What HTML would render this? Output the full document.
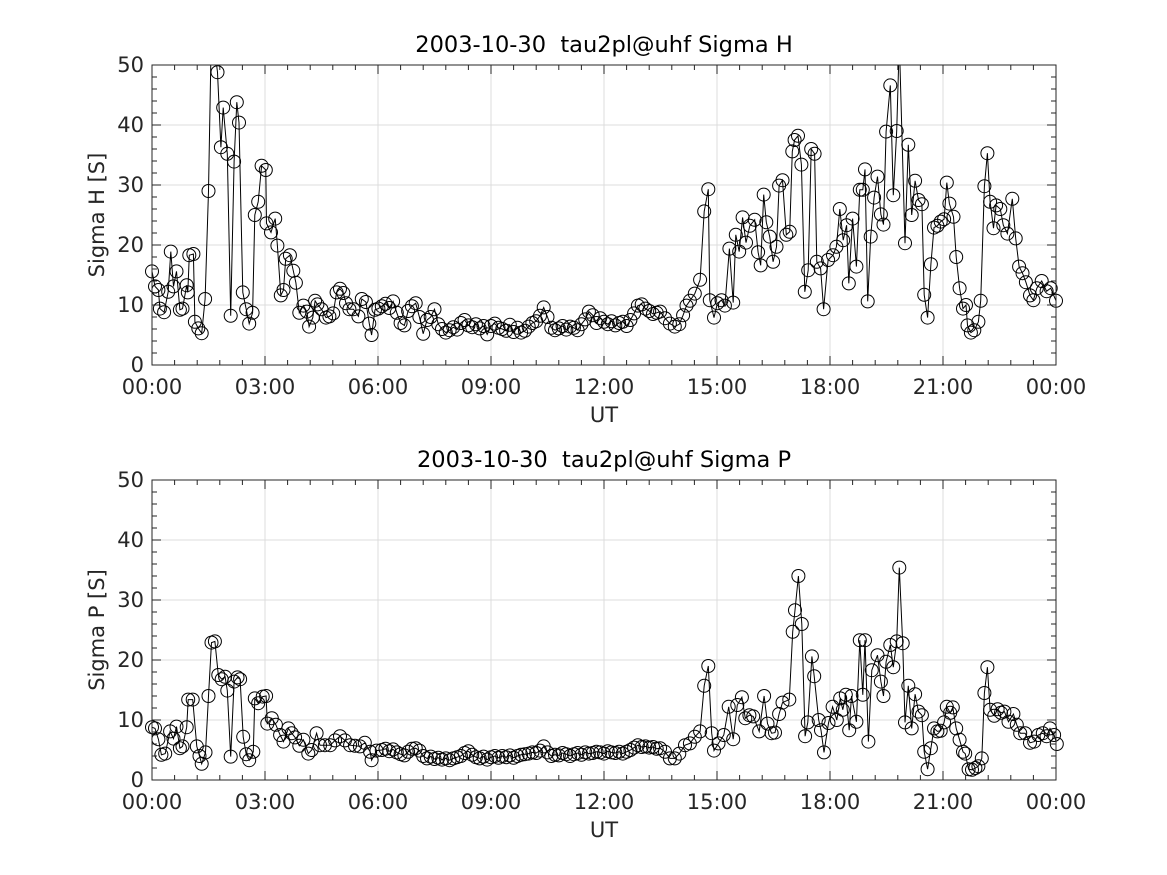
<!DOCTYPE html>
<html><head><meta charset="utf-8"><style>
html,body{margin:0;padding:0;background:#fff;}
svg{display:block;font-family:"DejaVu Sans","Liberation Sans",sans-serif;}
</style></head><body>
<svg id="fig" width="1167" height="875" viewBox="0 0 1167 875" xmlns="http://www.w3.org/2000/svg">
<rect width="1167" height="875" fill="#fff"/>
<defs>
<clipPath id="c1"><rect x="152" y="65" width="904" height="300"/></clipPath>
<clipPath id="c2"><rect x="152" y="480" width="904" height="300"/></clipPath>
</defs>
</svg>
<script>
// ---- data ----
const hTimes = [0.0,0.08,0.17,0.21,0.32,0.43,0.5,0.57,0.65,0.74,0.81,0.92,0.95,0.99,1.1,1.14,1.23,1.32,1.41,1.5,1.58,1.74,1.83,1.89,2.0,2.09,2.18,2.25,2.31,2.41,2.5,2.58,2.67,2.73,2.82,2.91,3.02,3.04,3.16,3.27,3.33,3.42,3.49,3.55,3.66,3.75,3.82,3.91,4.02,4.11,4.17,4.27,4.33,4.39,4.5,4.62,4.71,4.81,4.9,4.99,5.08,5.15,5.24,5.35,5.48,5.57,5.68,5.77,5.83,5.92,6.01,
6.1,6.2,6.3,6.4,6.5,6.6,6.7,6.8,6.9,7.0,7.1,7.2,7.3,7.4,7.5,7.6,7.7,7.8,7.9,8.0,8.1,8.2,8.3,8.4,8.5,8.6,8.7,8.8,8.9,9.0,9.1,9.2,9.3,9.4,9.5,9.6,9.7,9.8,9.9,10.0,10.1,10.2,10.3,10.4,10.5,10.6,10.7,10.8,10.9,11.0,11.1,11.2,11.3,11.4,11.5,11.6,11.7,11.8,11.9,12.0,12.1,12.2,12.3,12.4,12.5,12.6,12.7,12.8,12.9,13.0,13.1,13.2,13.3,13.4,
13.49,13.62,13.75,13.88,14.0,14.1,14.19,14.28,14.41,14.55,14.66,14.77,14.81,14.92,15.01,15.12,15.21,15.33,15.43,15.5,15.59,15.68,15.77,15.87,16.0,16.09,16.16,16.24,16.31,16.4,16.49,16.58,16.65,16.74,16.84,16.93,17.0,17.06,17.15,17.24,17.33,17.42,17.5,17.59,17.65,17.75,17.83,17.95,18.08,18.17,18.26,18.35,18.44,18.5,18.6,18.7,18.79,
18.87,18.93,19.0,19.08,19.17,19.26,19.35,19.42,19.49,19.6,19.68,19.77,19.84,19.99,20.08,20.17,20.26,20.35,20.44,20.5,20.59,20.68,20.76,20.85,20.94,21.03,21.1,21.17,21.28,21.35,21.44,21.53,21.61,21.65,21.74,21.83,21.94,22.0,22.1,22.18,22.25,22.34,22.41,22.52,22.6,22.71,22.84,22.93,23.02,23.11,23.2,23.31,23.4,23.49,23.62,23.75,23.86,24.0];
const hValues = [15.6,13.1,12.5,9.4,8.8,12.2,18.9,13.1,15.6,9.2,9.4,13.3,12.1,18.3,18.5,7.2,6.1,5.3,11.0,29.0,57,48.8,36.3,42.9,35.2,8.2,33.9,43.8,40.4,12.1,9.3,6.9,8.7,25.0,27.2,33.2,32.5,23.6,22.1,24.4,19.9,11.6,12.5,17.7,18.3,15.7,13.7,8.7,9.9,8.9,6.4,7.9,10.7,10.1,9.3,7.9,8.1,8.6,12.1,12.7,12.0,10.3,9.3,9.3,8.1,11.0,10.5,6.9,5.0,9.2,9.4,
9.8,10.2,9.5,10.6,8.7,7.0,6.6,9.0,9.8,10.3,8.0,5.2,7.5,8.0,9.3,6.8,6.0,5.4,5.8,6.3,5.9,7.0,7.5,6.6,6.3,6.8,6.1,6.5,5.1,6.5,6.9,6.2,6.0,5.7,6.7,5.5,6.2,5.4,5.7,6.4,7.0,7.3,8.2,9.6,8.0,6.2,5.8,6.1,6.5,5.9,6.4,6.2,5.8,6.8,7.6,8.9,8.3,7.0,7.8,7.2,6.8,7.3,6.6,7.0,7.2,6.5,7.5,8.6,9.9,10.1,9.4,9.0,8.5,8.7,
8.9,7.8,6.9,6.4,6.8,8.3,9.9,10.7,11.9,14.2,25.6,29.3,10.8,7.9,10.3,10.8,9.9,19.4,10.4,21.7,18.9,24.6,20.4,23.2,24.2,18.8,16.6,28.4,23.8,21.4,17.2,19.7,29.9,30.8,21.7,22.2,35.6,37.5,38.2,33.4,12.2,15.8,36.0,35.2,17.2,16.1,9.3,17.5,18.3,19.7,26.0,20.8,23.3,13.6,24.4,16.4,29.2,
29.2,32.6,10.6,21.4,27.9,31.4,25.1,23.4,38.9,46.6,28.3,39.0,54,20.3,36.7,25.0,30.7,27.5,26.8,11.7,7.9,16.8,22.9,23.2,23.9,24.3,30.4,26.9,24.7,18.0,12.8,9.4,10.0,6.6,5.4,5.8,7.2,10.7,29.8,35.3,27.2,22.8,26.6,26.0,23.3,21.9,27.7,21.1,16.4,15.3,13.8,11.6,10.8,12.8,14.0,12.3,12.8,10.7];

const pTimes = [0.0,0.08,0.17,0.25,0.35,0.48,0.57,0.65,0.74,0.81,0.92,0.96,1.08,1.19,1.26,1.32,1.42,1.5,1.58,1.67,1.76,1.85,1.94,2.0,2.09,2.18,2.27,2.34,2.42,2.5,2.58,2.69,2.73,2.82,2.94,3.03,3.06,3.18,3.29,3.4,3.49,3.62,3.71,3.8,3.91,4.02,4.15,4.24,4.37,4.46,4.59,4.73,4.86,4.99,5.12,5.26,5.39,5.52,5.65,5.79,5.83,5.96,
6.1,6.2,6.3,6.4,6.5,6.6,6.7,6.8,6.9,7.0,7.1,7.2,7.3,7.4,7.5,7.6,7.7,7.8,7.9,8.0,8.1,8.2,8.3,8.4,8.5,8.6,8.7,8.8,8.9,9.0,9.1,9.2,9.3,9.4,9.5,9.6,9.7,9.8,9.9,10.0,10.1,10.2,10.3,10.4,10.5,10.6,10.7,10.8,10.9,11.0,11.1,11.2,11.3,11.4,11.5,11.6,11.7,11.8,11.9,12.0,12.1,12.2,12.3,12.4,12.5,12.6,12.7,12.8,12.9,13.0,13.1,13.2,13.3,13.4,
13.49,13.62,13.75,13.88,14.0,14.15,14.28,14.41,14.55,14.66,14.77,14.86,14.92,15.04,15.18,15.31,15.43,15.54,15.66,15.75,15.86,15.96,16.12,16.25,16.34,16.45,16.54,16.65,16.74,16.92,17.01,17.07,17.16,17.25,17.34,17.41,17.52,17.58,17.7,17.76,17.84,17.96,18.07,18.18,18.27,18.34,18.42,18.51,18.57,18.7,18.79,
18.87,18.93,19.02,19.11,19.26,19.35,19.42,19.49,19.6,19.68,19.77,19.84,19.93,19.99,20.08,20.17,20.26,20.35,20.44,20.5,20.59,20.68,20.76,20.85,20.94,21.03,21.1,21.19,21.26,21.35,21.44,21.53,21.59,21.68,21.77,21.86,21.94,22.03,22.1,22.18,22.25,22.36,22.45,22.54,22.63,22.74,22.87,22.96,23.05,23.18,23.31,23.42,23.53,23.65,23.75,23.84,23.95,24.02];
const pValues = [8.8,8.6,6.8,4.2,4.4,8.1,6.9,8.9,5.3,5.6,8.8,13.4,13.4,5.6,4.0,2.7,4.6,14.0,22.9,23.1,17.5,16.8,17.2,14.9,3.9,16.4,17.1,16.8,7.2,4.3,3.3,4.7,13.6,12.8,13.9,14.0,9.4,10.3,9.2,7.5,6.4,8.6,7.8,7.1,5.7,6.7,4.4,5.0,7.8,5.8,5.8,5.8,6.6,7.3,6.6,5.8,5.7,5.6,6.2,4.7,3.3,4.9,
5.0,5.2,4.8,5.1,4.6,4.3,4.1,4.7,5.2,5.3,4.9,4.0,3.6,3.9,3.5,3.7,3.4,3.6,3.3,3.6,3.8,4.0,4.5,4.8,4.2,3.8,3.6,3.9,3.4,3.8,4.0,3.7,4.0,3.8,4.1,3.7,4.0,4.2,4.3,4.4,4.6,4.5,4.9,5.6,4.6,4.0,4.2,4.1,4.5,4.3,4.0,4.3,4.5,4.2,4.6,4.4,4.5,4.7,4.6,4.4,4.8,4.6,4.5,4.7,4.4,4.7,5.0,5.4,5.8,5.5,5.6,5.4,5.5,5.2,
5.3,4.7,3.6,3.6,4.4,5.8,6.1,7.2,8.1,15.7,19.0,7.8,4.9,6.1,7.5,12.2,6.8,12.5,13.8,10.3,10.8,10.6,8.1,14.0,9.4,7.8,7.9,11.0,12.9,13.4,24.7,28.3,34.0,26.0,7.3,9.6,20.6,17.3,10.0,8.3,4.6,9.5,12.2,10.0,13.6,11.7,14.2,8.3,14.0,9.7,23.3,
14.2,23.3,6.4,18.3,20.8,16.4,14.0,19.7,22.5,18.8,23.1,35.4,22.8,9.6,15.7,8.6,14.3,11.4,10.8,4.7,1.8,5.3,8.6,8.1,8.2,9.6,12.2,11.2,12.1,8.6,6.7,4.7,4.4,1.8,1.7,2.0,2.3,3.6,14.5,18.8,11.7,10.7,11.8,11.2,11.4,9.7,11.0,9.2,7.8,7.8,6.2,6.4,7.5,7.8,7.3,8.6,7.5,6.0];

const xTickLabels = ["00:00","03:00","06:00","09:00","12:00","15:00","18:00","21:00","00:00"];
const yTickLabels = ["0","10","20","30","40","50"];

// ---- drawing ----
const NS = "http://www.w3.org/2000/svg";
const svg = document.getElementById('fig');
function mk(tag, attrs, parent){ const e=document.createElementNS(NS,tag); for(const k in attrs) e.setAttribute(k,attrs[k]); (parent||svg).appendChild(e); return e; }
const L=152, R=1056, W=R-L;
function xs(h){ return L + h/24*W; }

function panel(top, title, ylab, times, vals, clip, key){
  const B = top+300;
  const ys = v => B - v/50*300;
  const g = mk('g',{});
  
  
  for(let i=0;i<=8;i++){ const x=xs(i*3); const l=mk('line',{x1:x,x2:x,y1:top,y2:B,stroke:'#dcdcdc','stroke-width':1},g);
      }
  for(let i=0;i<=5;i++){ const y=ys(i*10); const l=mk('line',{x1:L,x2:R,y1:y,y2:y,stroke:'#dcdcdc','stroke-width':1},g);
      }
  let d='';
  for(let h=0;h<=24.001;h+=0.6){ const x=xs(h); d+=`M${x} ${B}v-5M${x} ${top}v5`; }
  for(let i=0;i<=8;i++){ const x=xs(i*3); d+=`M${x} ${B}v-9M${x} ${top}v9`; }
  for(let v=0;v<=50;v+=2){ const y=ys(v); const len=(v%10===0)?9:5; d+=`M${L} ${y}h${len}M${R} ${y}h${-len}`; }
  const t=mk('path',{d:d,stroke:'#262626','stroke-width':1,fill:'none'},g);
   
  const sg = mk('g',{},g);
   
  let pd='';
  times.forEach((h,i)=>{ pd += (i?'L':'M')+xs(h).toFixed(1)+' '+ys(vals[i]).toFixed(1); });
  const line=mk('path',{d:pd,stroke:'#000','stroke-width':1,fill:'none','clip-path':`url(#${clip})`},sg);
   
  times.forEach((h,i)=>{ if(vals[i]>50) return; const c=mk('circle',{cx:xs(h).toFixed(1),cy:ys(vals[i]).toFixed(1),r:6.5,stroke:'#000','stroke-width':1,fill:'none'},sg);
      });
  const box=mk('rect',{x:L,y:top,width:W,height:300,fill:'none',stroke:'#262626','stroke-width':1},g);
   
  xTickLabels.forEach((s,i)=>{ const tx=mk('text',{x:xs(i*3),y:B+29,'text-anchor':'middle','font-size':21,fill:'#262626'},g); tx.textContent=s;
      });
  yTickLabels.forEach((s,i)=>{ const tx=mk('text',{x:L-8,y:ys(i*10)+7,'text-anchor':'end','font-size':21,fill:'#262626'},g); tx.textContent=s;
      });
  const xl=mk('text',{x:(L+R)/2,y:B+57,'text-anchor':'middle','font-size':21,fill:'#262626'},g); xl.textContent='UT';
   
  const yl=mk('text',{x:0,y:0,'text-anchor':'middle','font-size':21,fill:'#262626',transform:`translate(104 ${top+150}) rotate(-90)`},g); yl.textContent=ylab;
   
  const ti=mk('text',{x:(L+R)/2,y:top-13,'text-anchor':'middle','font-size':22.5,fill:'#000','xml:space':'preserve',style:'white-space:pre'},g); ti.textContent=title;
   
}
panel(65,'2003-10-30  tau2pl@uhf Sigma H','Sigma H [S]',hTimes,hValues,'c1','sigma-h');
panel(480,'2003-10-30  tau2pl@uhf Sigma P','Sigma P [S]',pTimes,pValues,'c2','sigma-p');
</script>
</body></html>
